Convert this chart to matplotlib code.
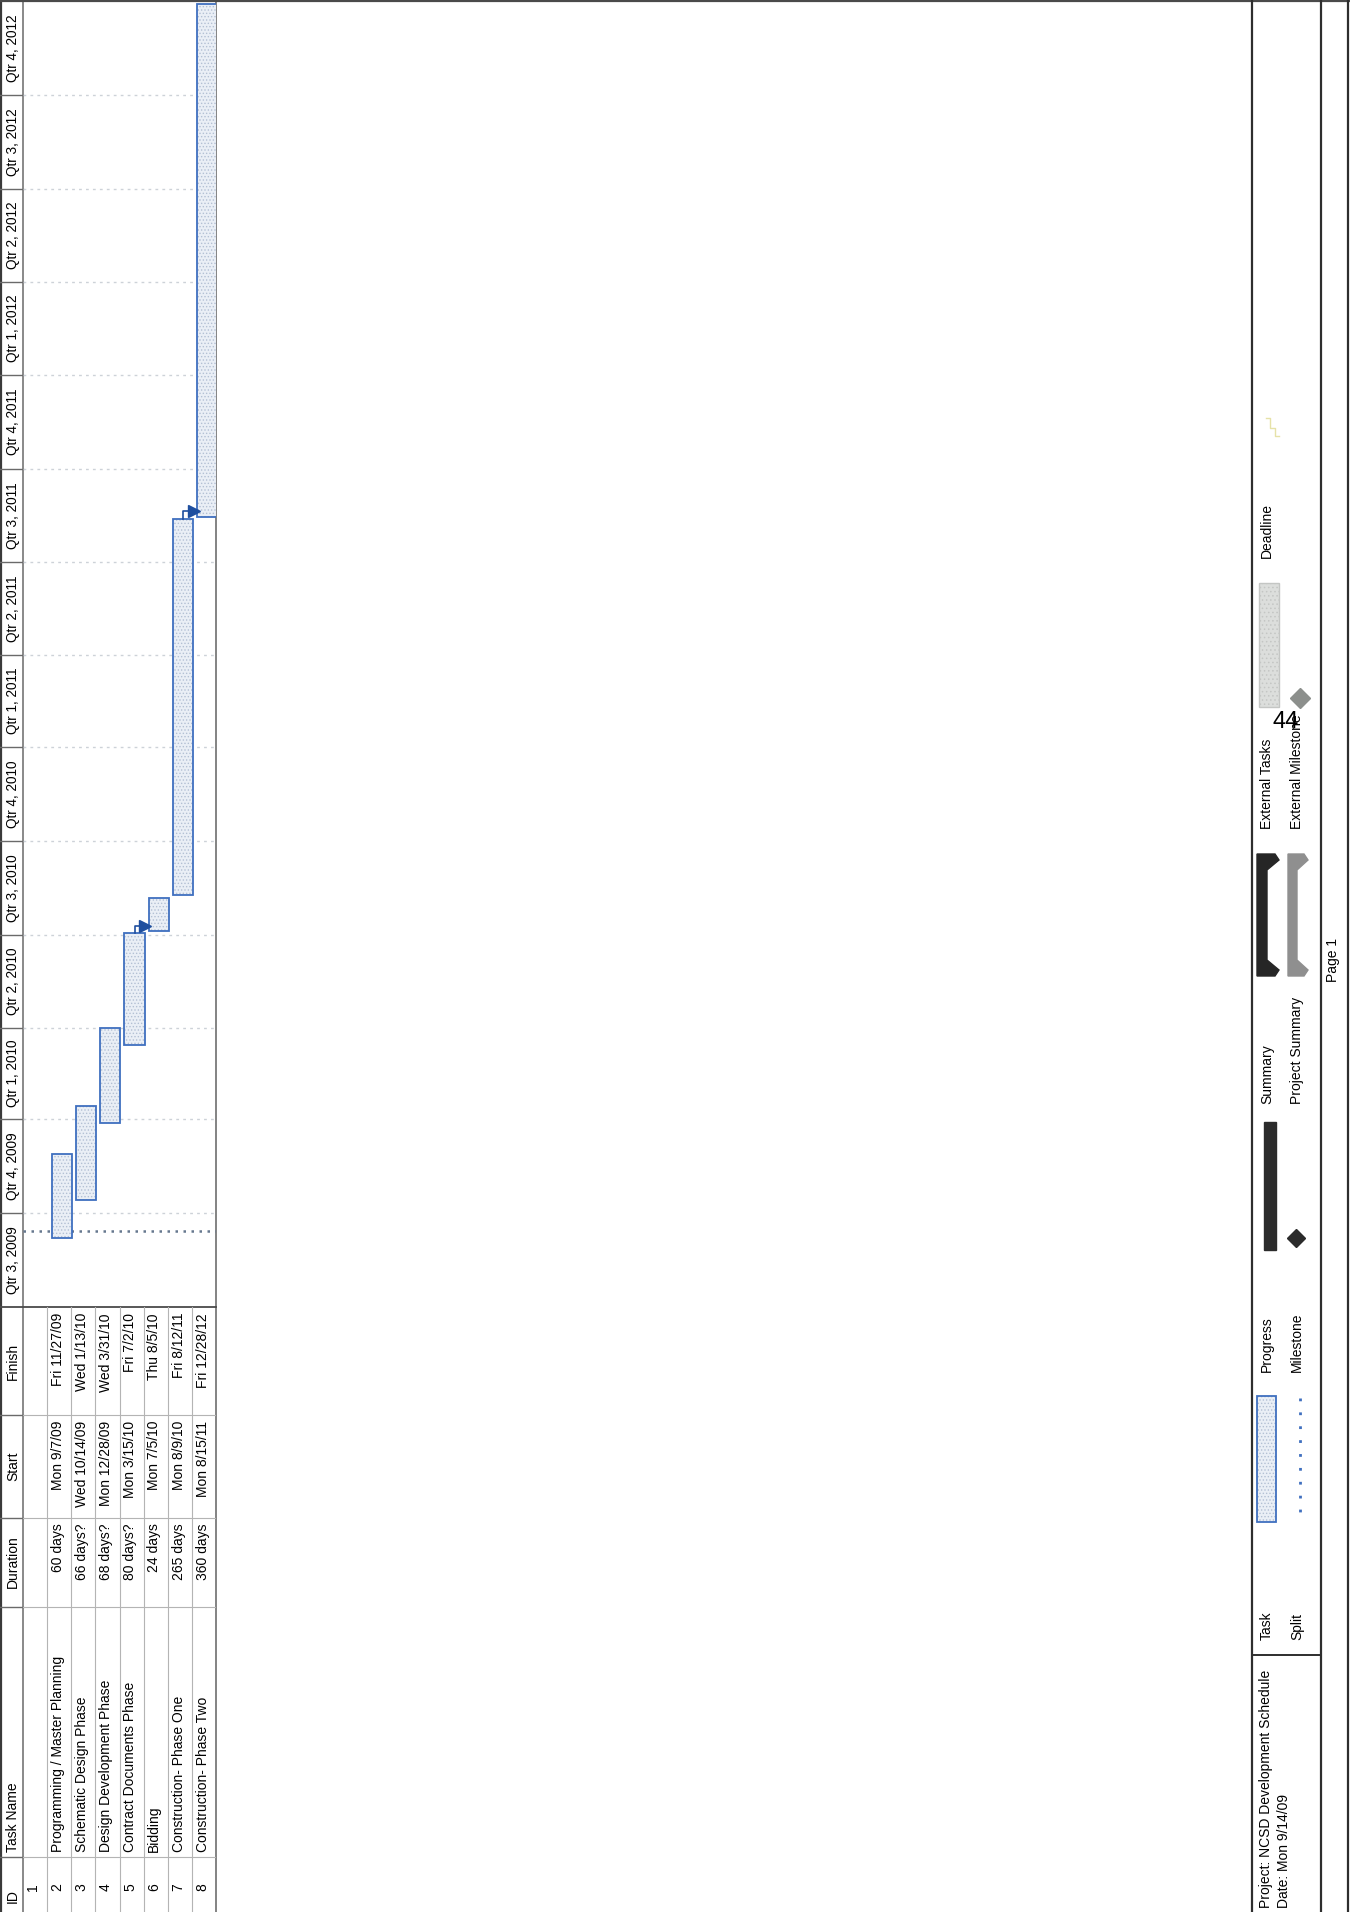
import matplotlib
matplotlib.use("Agg")
import matplotlib.pyplot as plt
import matplotlib.dates as mdates
from matplotlib.patches import Polygon, Rectangle
import numpy as np
import pandas as pd

plt.rcParams['font.family'] = ['Liberation Sans', 'DejaVu Sans']
plt.rcParams['hatch.linewidth'] = 0.6

task_ids = [1, 2, 3, 4, 5, 6, 7, 8]
task_names = ["", "Programming / Master Planning", "Schematic Design Phase",
              "Design Development Phase", "Contract Documents Phase", "Bidding",
              "Construction- Phase One", "Construction- Phase Two"]
durations = ["", "60 days", "66 days?", "68 days?", "80 days?", "24 days",
             "265 days", "360 days"]
starts = ["", "Mon 9/7/09", "Wed 10/14/09", "Mon 12/28/09", "Mon 3/15/10",
          "Mon 7/5/10", "Mon 8/9/10", "Mon 8/15/11"]
finishes = ["", "Fri 11/27/09", "Wed 1/13/10", "Wed 3/31/10", "Fri 7/2/10",
            "Thu 8/5/10", "Fri 8/12/11", "Fri 12/28/12"]
links = [(5, 6), (7, 8)]

quarter_starts = ["2009-07-01", "2009-10-01", "2010-01-01", "2010-04-01",
                  "2010-07-01", "2010-10-01", "2011-01-01", "2011-04-01",
                  "2011-07-01", "2011-10-01", "2012-01-01", "2012-04-01",
                  "2012-07-01", "2012-10-01", "2013-01-01"]
quarter_labels = ["Qtr 3, 2009", "Qtr 4, 2009", "Qtr 1, 2010", "Qtr 2, 2010",
                  "Qtr 3, 2010", "Qtr 4, 2010", "Qtr 1, 2011", "Qtr 2, 2011",
                  "Qtr 3, 2011", "Qtr 4, 2011", "Qtr 1, 2012", "Qtr 2, 2012",
                  "Qtr 3, 2012", "Qtr 4, 2012"]
status_date = "2009-09-14"

project_title = "Project: NCSD Development Schedule"
project_date = "Date: Mon 9/14/09"
legend_row1 = ["Task", "Progress", "Summary", "External Tasks", "Deadline"]
legend_row2 = ["Split", "Milestone", "Project Summary", "External Milestone"]


def parse_day(s):
    return pd.to_datetime(s.split()[1], format="%m/%d/%y")


W, H = 1350, 1912
tab_right = 216.3
hdr_w = 22.7
row_h = 24.2
gantt_bottom = 1307
px_per_day = 1.02
x_lo = 0.5 - hdr_w / row_h
x_hi = len(task_ids) + 0.5

bar_edge = '#3f6fbf'
link_col = '#1f4f9f'
grid_dark = '#6a6a6a'
grid_light = '#b4b4b4'

fig = plt.figure(figsize=(W / 100, H / 100), dpi=100)

# page axes in pixel units (frame, legend)
page = fig.add_axes([0, 0, 1, 1])
page.set_xlim(0, W)
page.set_ylim(H, 0)
page.axis('off')

# gantt axes: x = task row, y = date (rotated page)
gantt = fig.add_axes([0, (H - gantt_bottom) / H, tab_right / W, gantt_bottom / H])
gantt.set_facecolor('none')
gantt.axis('off')
gantt.set_xlim(x_lo, x_hi)
t0 = mdates.date2num(pd.Timestamp(quarter_starts[0]))
gantt.set_ylim(t0, t0 + gantt_bottom / px_per_day)

q_nums = mdates.date2num(pd.to_datetime(quarter_starts))
for i, lab in enumerate(quarter_labels):
    q = q_nums[i]
    if i > 0:
        gantt.plot([x_lo, 0.5], [q, q], color=grid_dark, lw=1.0)
        gantt.plot([0.5, x_hi], [q, q], color='#cdd2d8', lw=1.0, ls=(0, (2, 3)))
    gantt.text(0.1, (q + q_nums[i + 1]) / 2, lab, rotation=90, ha='center',
               va='center', rotation_mode='anchor', fontsize=9.8, clip_on=True)

sd = mdates.date2num(pd.Timestamp(status_date))
gantt.plot([0.5, x_hi], [sd, sd], color='#66788f', lw=1.8, ls=(0, (1, 2.2)), zorder=2)

rows = np.array([i for i, s in zip(task_ids, starts) if s])
s_num = mdates.date2num([parse_day(s) for s in starts if s])
f_num = mdates.date2num([parse_day(f) for f in finishes if f]) + 1
bar_x = rows + 0.12
bar_w = 0.83
gantt.bar(bar_x, f_num - s_num, bottom=s_num, width=bar_w, color='#eaeff6',
          edgecolor='#b3c0d4', linewidth=0, hatch='.....', zorder=3)
gantt.bar(bar_x, f_num - s_num, bottom=s_num, width=bar_w, facecolor='none',
          edgecolor=bar_edge, linewidth=1.3, zorder=4)

for a, b in links:
    ia = list(rows).index(a)
    ib = list(rows).index(b)
    y_top = f_num[ia]
    y_link = s_num[ib] + 5
    xa = bar_x[ia]
    xb = bar_x[ib] - bar_w / 2
    gantt.plot([xa, xa, xb - 0.25], [y_top, y_link, y_link], color=link_col, lw=1.2, zorder=5)
    gantt.plot([xb - 0.14], [y_link], marker='>', ms=8, color=link_col, zorder=6)

# table axes: x = task row, y = pixels
tab = fig.add_axes([0, 0, tab_right / W, (H - gantt_bottom) / H])
tab.set_facecolor('none')
tab.axis('off')
tab.set_xlim(x_lo, x_hi)
tab.set_ylim(H, gantt_bottom)

col_lines = [1857, 1607, 1518, 1415]
for y in col_lines:
    tab.plot([x_lo, 0.5], [y, y], color=grid_dark, lw=1.0)
    tab.plot([0.5, x_hi], [y, y], color=grid_light, lw=0.8)
for r in task_ids[:-1]:
    tab.plot([r + 0.5, r + 0.5], [gantt_bottom, H], color=grid_light, lw=0.8)

hx = 0.1
fs = 10
tab.text(hx, 1903, "ID", rotation=90, ha='left', va='center', rotation_mode='anchor', fontsize=fs)
tab.text(hx, 1852, "Task Name", rotation=90, ha='left', va='center', rotation_mode='anchor', fontsize=fs)
tab.text(hx, 1562, "Duration", rotation=90, ha='center', va='center', rotation_mode='anchor', fontsize=fs)
tab.text(hx, 1466, "Start", rotation=90, ha='center', va='center', rotation_mode='anchor', fontsize=fs)
tab.text(hx, 1361, "Finish", rotation=90, ha='center', va='center', rotation_mode='anchor', fontsize=fs)

for i, name, dur, st, fi in zip(task_ids, task_names, durations, starts, finishes):
    x = i - 0.06
    tab.text(x, 1887, str(i), rotation=90, ha='center', va='center', rotation_mode='anchor', fontsize=fs)
    tab.text(x, 1852, name, rotation=90, ha='left', va='center', rotation_mode='anchor', fontsize=fs)
    tab.text(x, 1523, dur, rotation=90, ha='right', va='center', rotation_mode='anchor', fontsize=fs)
    tab.text(x, 1421, st, rotation=90, ha='right', va='center', rotation_mode='anchor', fontsize=fs)
    tab.text(x, 1313, fi, rotation=90, ha='right', va='center', rotation_mode='anchor', fontsize=fs)

# frame lines
page.plot([1, 1], [0, H], color='#3a3a3a', lw=1.6)
page.plot([hdr_w, hdr_w], [0, H], color=grid_dark, lw=1.1)
page.plot([tab_right, tab_right], [0, H], color='#7a7a7a', lw=1.3)
page.plot([0, tab_right], [gantt_bottom, gantt_bottom], color='#4a4a4a', lw=1.3)
page.plot([0, W], [1, 1], color='#4a4a4a', lw=1.6)
for x in [1252, 1321, 1348]:
    page.plot([x, x], [0, H], color='#2e2e2e', lw=1.6)
page.plot([1252, 1321], [1655, 1655], color='#2e2e2e', lw=1.4)

# legend
page.text(1266, 1908, project_title, rotation=90, ha='left', va='center', rotation_mode='anchor', fontsize=fs)
page.text(1284, 1908, project_date, rotation=90, ha='left', va='center', rotation_mode='anchor', fontsize=fs)
leg_y = [1640, 1372, 1104, 829, 558]
for lab, y in zip(legend_row1, leg_y):
    page.text(1267, y, lab, rotation=90, ha='left', va='center', rotation_mode='anchor', fontsize=fs)
for lab, y in zip(legend_row2, leg_y):
    page.text(1297, y, lab, rotation=90, ha='left', va='center', rotation_mode='anchor', fontsize=fs)

page.add_patch(Rectangle((1257, 1396), 19, 126, facecolor='#eaeff6', edgecolor='#b3c0d4',
                         lw=0, hatch='.....'))
page.add_patch(Rectangle((1257, 1396), 19, 126, facecolor='none', edgecolor=bar_edge, lw=1.3))
page.plot([1300, 1300], [1398, 1522], color=bar_edge, lw=2, ls=(0, (1, 4)))

page.add_patch(Rectangle((1264, 1122), 12, 128, color='#2b2b2b'))
page.plot([1296], [1238], marker='D', ms=9.5, color='#2b2b2b')


def bracket(x0, x1, xt, yt, yb, col):
    pts = [(x0, yt), (xt - 4, yt), (xt, yt + 6), (x1, yt + 16), (x1, yb - 16),
           (xt, yb - 6), (xt - 4, yb), (x0, yb)]
    page.add_patch(Polygon(pts, closed=True, color=col))


bracket(1257, 1267, 1279, 854, 976, '#262626')
bracket(1288, 1297, 1308, 854, 976, '#8f8f8f')

page.add_patch(Rectangle((1259, 583), 20, 124, facecolor='#dcdedc', edgecolor='#c4c6c4',
                         lw=1.0, hatch='....'))
page.plot([1300], [698], marker='D', ms=10, color='#8c8f8c')
page.plot([1266, 1270, 1270, 1275, 1275, 1279], [418, 418, 428, 428, 436, 436],
          color='#e6e2a8', lw=1.0)

page.text(1333, 960, "Page 1", rotation=90, ha='center', va='center', rotation_mode='anchor', fontsize=fs)
page.text(1286, 728, "44", ha='center', va='baseline', fontsize=17)

fig.savefig("out.png", dpi=100)
